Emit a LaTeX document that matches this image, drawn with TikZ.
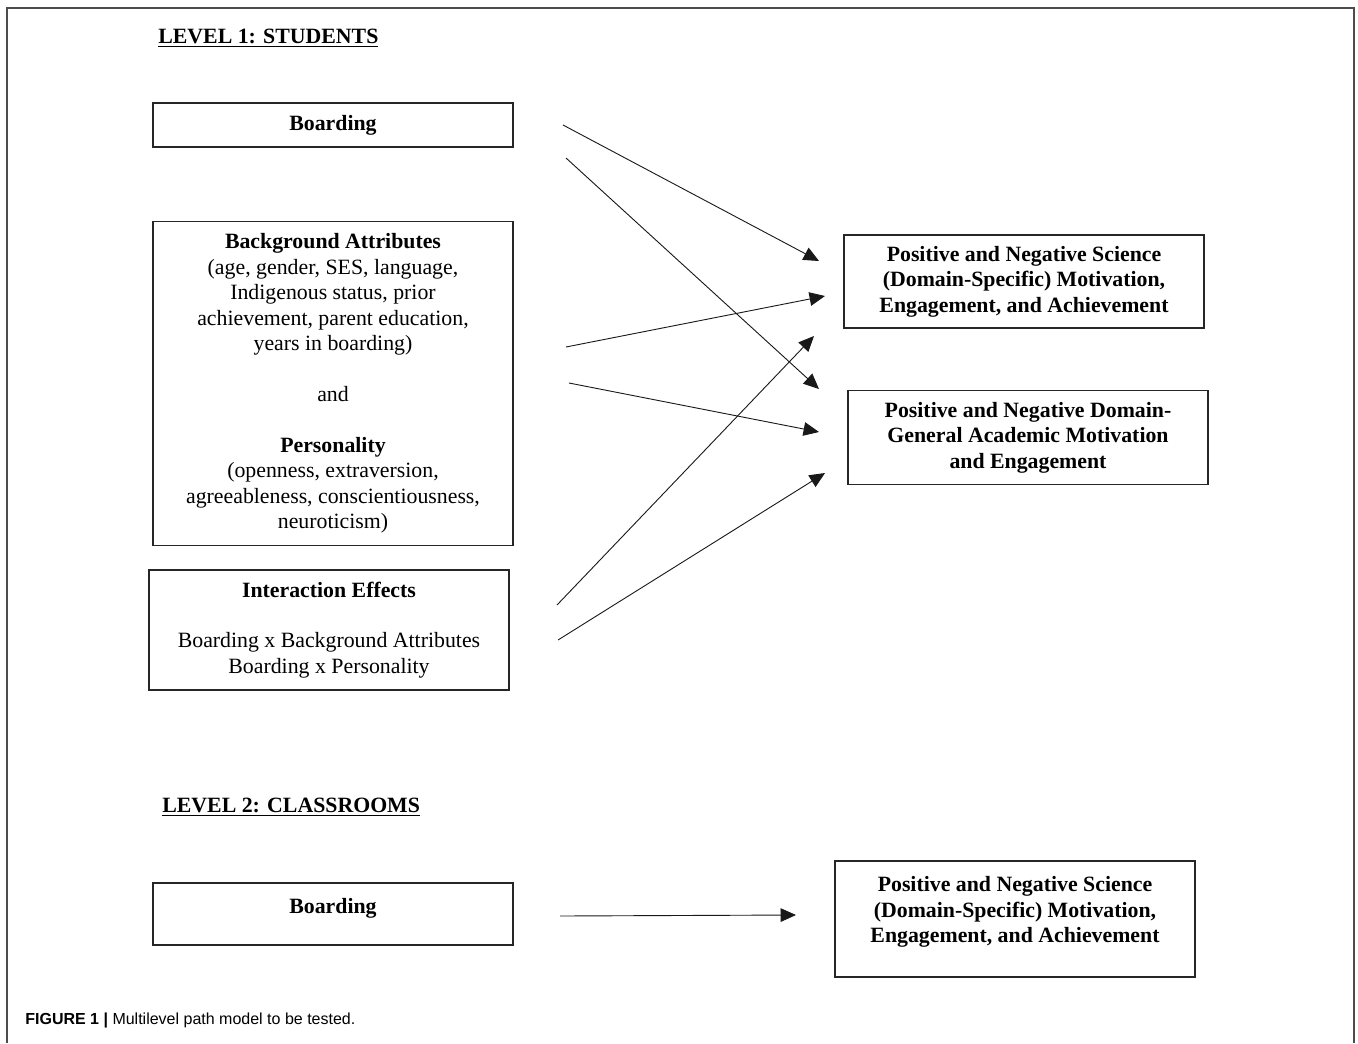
\documentclass[tikz,border=0pt]{standalone}
\usepackage{fontspec}
\setmainfont{Liberation Serif}
\newfontfamily\capfont{Liberation Sans}
\usetikzlibrary{arrows.meta,positioning}

\begin{document}
\begin{tikzpicture}[
    x=0.55pt, y=-0.55pt,
    box/.style={rectangle, draw=black!85, line width=0.8pt, align=center, minimum width=198pt, inner sep=3pt, font=\fontsize{12}{14}\selectfont},
    head/.style={anchor=base west, inner sep=0pt, font=\fontsize{12}{14}\selectfont\bfseries},
    arrow/.style={-{Triangle[length=8.5pt,width=7.5pt]}, line width=0.5pt, draw=black!90},
    frame/.style={draw=black!70, line width=1pt}
]
\useasboundingbox (0,0) rectangle (1358,1043);
\draw[frame] (7,1043) -- (7,8) -- (1354,8) -- (1354,1043);

% level 1
\node[head] (lev1) at (158,43) {\underline{LEVEL 1: STUDENTS}};
\node[box, minimum height=24.2pt] (board1) at (333,125) {\textbf{Boarding}};
\node[box, minimum height=178.2pt, below=40.2pt of board1] (attr) {\textbf{Background Attributes}\\ (age, gender, SES, language,\\ Indigenous status, prior\\ achievement, parent education,\\ years in boarding)\\[14pt] and\\[14pt] \textbf{Personality}\\ (openness, extraversion,\\ agreeableness, conscientiousness,\\ neuroticism)};
\node[box, minimum height=66pt, below=12.6pt of attr, xshift=-2.2pt] (inter) {\textbf{Interaction Effects}\\[14pt] Boarding x Background Attributes\\ Boarding x Personality};
\node[box, minimum height=51.2pt, font=\fontsize{12}{14}\selectfont\bfseries] (sci) at (1024,281.5) {Positive and Negative Science\\ (Domain-Specific) Motivation,\\ Engagement, and Achievement};
\node[box, minimum height=51.7pt, font=\fontsize{12}{14}\selectfont\bfseries, below=33.5pt of sci, xshift=2.2pt] (gen) {Positive and Negative Domain-\\ General Academic Motivation\\ and Engagement};

\coordinate (b1a) at (563,125);
\coordinate (b1b) at (566,158);
\coordinate (at1) at (566,347);
\coordinate (at2) at (569,383);
\coordinate (in1) at (557,605);
\coordinate (in2) at (558,640);
\coordinate (s1) at (819,261);
\coordinate (s2) at (825,296);
\coordinate (s3) at (814,336);
\coordinate (g1) at (819,389);
\coordinate (g2) at (819,432);
\coordinate (g3) at (825,473);

\draw[arrow] (b1a) -- (s1);
\draw[arrow] (b1b) -- (g1);
\draw[arrow] (at1) -- (s2);
\draw[arrow] (at2) -- (g2);
\draw[arrow] (in1) -- (s3);
\draw[arrow] (in2) -- (g3);

% level 2
\node[head] (lev2) at (162,812) {\underline{LEVEL 2: CLASSROOMS}};
\node[box, minimum height=34.1pt, text depth=9pt] (board2) at (333,914) {\textbf{Boarding}};
\node[box, minimum height=63.8pt, text depth=10.5pt, font=\fontsize{12}{14}\selectfont\bfseries] (sci2) at (1015,919) {Positive and Negative Science\\ (Domain-Specific) Motivation,\\ Engagement, and Achievement};
\coordinate (b2a) at (560,916);
\coordinate (s4) at (796,915);
\draw[arrow] (b2a) -- (s4);

\node[anchor=west, inner sep=0pt, font=\capfont\fontsize{8.8}{10}\selectfont] (cap) at (25,1020) {\textbf{FIGURE 1 |} Multilevel path model to be tested.};
\end{tikzpicture}
\end{document}
